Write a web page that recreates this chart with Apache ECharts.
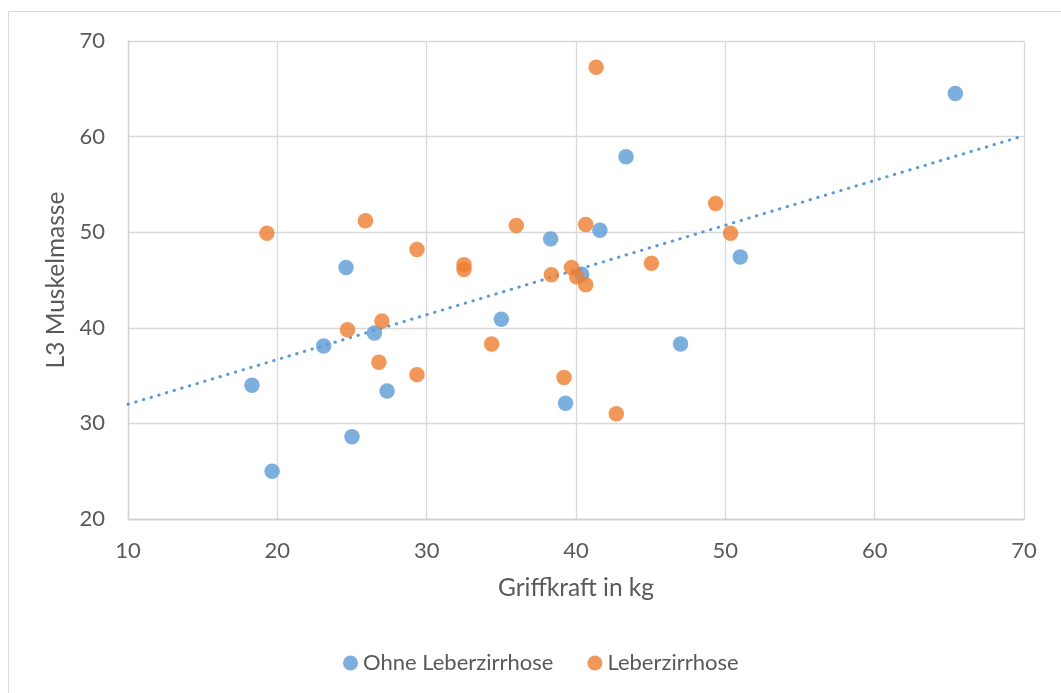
<!DOCTYPE html>
<html>
<head>
<meta charset="utf-8">
<title>Griffkraft und L3 Muskelmasse</title>
<script src="https://cdn.jsdelivr.net/npm/echarts@6/dist/echarts.min.js"></script>
<style>
  html, body { margin: 0; padding: 0; background: #ffffff; }
  #chart { width: 1061px; height: 693px; }
</style>
</head>
<body>
<div id="chart"></div>
<script>
// Grip strength (kg) vs. L3 muscle mass
const ohneX = [18.3, 19.65, 23.1, 24.6, 25.0, 26.5, 27.35, 35.0, 38.3, 39.3, 40.38, 41.6, 43.35, 47.0, 51.0, 65.4];
const ohneY = [34.0, 25.0, 38.1, 46.3, 28.6, 39.45, 33.4, 40.9, 49.3, 32.1, 45.6, 50.2, 57.9, 38.3, 47.4, 64.5];

const zirrX = [19.3, 24.7, 25.9, 26.8, 27.0, 29.35, 29.35, 32.5, 32.5, 34.35, 36.0, 38.35, 39.2, 39.7, 40.05, 40.65, 40.65, 41.35, 42.7, 45.05, 49.35, 50.35];
const zirrY = [49.9, 39.8, 51.2, 36.4, 40.7, 48.2, 35.1, 46.6, 46.1, 38.3, 50.7, 45.55, 34.8, 46.3, 45.35, 50.8, 44.5, 67.25, 31.0, 46.75, 53.0, 49.9];

// Linear trend line of the "Ohne Leberzirrhose" series (x at both ends, y values)
const trendX = [10, 70];
const trendY = [32.0, 60.1];

const seriesNames = ['Ohne Leberzirrhose', 'Leberzirrhose'];
const xTicks = { min: 10, max: 70, step: 10 };
const yTicks = { min: 20, max: 70, step: 10 };

const zip = (xs, ys) => xs.map((x, i) => [x, ys[i]]);

const textColor = '#595959';
const gridColor = '#D9D9D9';
const fontFamily = 'Lato, "Open Sans", sans-serif';

const chart = echarts.init(document.getElementById('chart'), null, { renderer: 'canvas' });

chart.setOption({
  backgroundColor: '#ffffff',
  animation: false,
  textStyle: { fontFamily: fontFamily, color: textColor },
  graphic: [{
    type: 'rect',
    silent: true,
    shape: { x: 8.5, y: 11.5, width: 1100, height: 720 },
    style: { fill: 'none', stroke: gridColor, lineWidth: 1 }
  }],
  grid: { left: 128, right: 37, top: 41, bottom: 174 },
  legend: {
    data: seriesNames,
    top: 652,
    left: 343,
    padding: 0,
    icon: 'circle',
    itemWidth: 15,
    itemHeight: 15,
    itemGap: 34,
    textStyle: { fontFamily: fontFamily, fontSize: 22, color: textColor }
  },
  xAxis: {
    type: 'value',
    min: xTicks.min, max: xTicks.max, interval: xTicks.step,
    name: 'Griffkraft in kg',
    nameLocation: 'middle',
    nameGap: 57,
    nameTextStyle: { fontFamily: fontFamily, fontSize: 24.5, color: textColor },
    axisLine: { show: true, lineStyle: { color: '#D0D0D0', width: 1.3 } },
    axisTick: { show: false },
    axisLabel: { margin: 21, fontSize: 22, color: textColor, fontFamily: fontFamily },
    splitLine: { show: true, lineStyle: { color: gridColor, width: 1.3 } }
  },
  yAxis: {
    type: 'value',
    min: yTicks.min, max: yTicks.max, interval: yTicks.step,
    name: 'L3 Muskelmasse',
    nameLocation: 'middle',
    nameGap: 58,
    nameTextStyle: { fontFamily: fontFamily, fontSize: 24.5, color: textColor },
    axisLine: { show: true, lineStyle: { color: '#D0D0D0', width: 1.3 } },
    axisTick: { show: false },
    axisLabel: { margin: 23, fontSize: 22, color: textColor, fontFamily: fontFamily },
    splitLine: { show: true, lineStyle: { color: gridColor, width: 1.3 } }
  },
  series: [
    {
      name: seriesNames[0],
      type: 'scatter',
      symbol: 'circle',
      symbolSize: 15.5,
      itemStyle: { color: '#5B9BD5' },
      data: zip(ohneX, ohneY),
      z: 3
    },
    {
      name: seriesNames[1],
      type: 'scatter',
      symbol: 'circle',
      symbolSize: 15.5,
      itemStyle: { color: '#ED7D31' },
      data: zip(zirrX, zirrY),
      z: 4
    },
    {
      name: 'Trend',
      type: 'line',
      showSymbol: false,
      symbol: 'none',
      silent: true,
      data: zip(trendX, trendY),
      lineStyle: { color: '#5B9BD5', width: 3, type: [0.5, 7.5], cap: 'round' },
      z: 2
    }
  ]
});
</script>
</body>
</html>
